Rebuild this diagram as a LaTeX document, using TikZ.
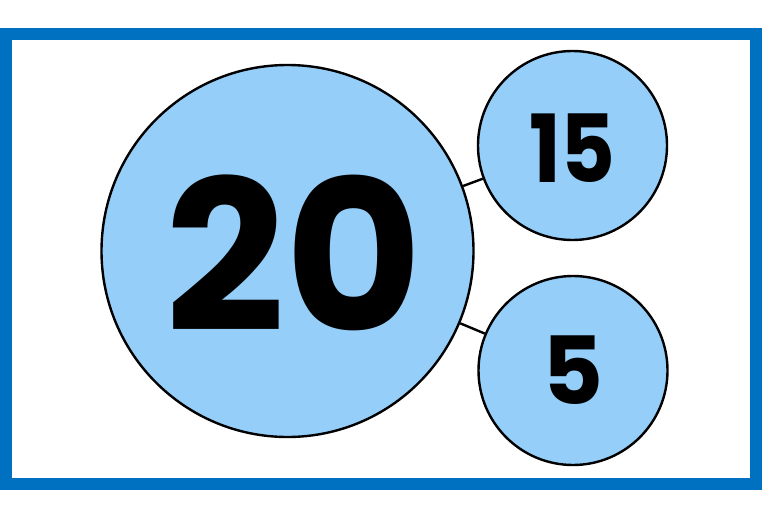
\documentclass[tikz,border=0pt]{standalone}
\usepackage{fontspec}
\setmainfont{Poppins}
\definecolor{frame}{HTML}{0070C0}
\definecolor{bubble}{HTML}{94CEF9}
\begin{document}
\begin{tikzpicture}[x=1pt,y=-1pt,
  bub/.style={circle,draw=black,line width=2.4pt,fill=bubble,inner sep=0pt},
  lnk/.style={draw=black,line width=2.4pt},
  num/.style={inner sep=0pt,text depth=0pt,anchor=center,font=\bfseries}]
\useasboundingbox (0,0) rectangle (763,506);
\draw[frame,line width=12pt] (6,34) rectangle (756,484);
\node[bub,minimum size=372pt] (big) at (287.5,251) {};
\node[bub,minimum size=189pt] (top) at (572.5,145.5) {};
\node[bub,minimum size=189pt] (bot) at (573,370.5) {};
\draw[lnk] (big) -- (top);
\draw[lnk] (big) -- (bot);
\node[num,font=\bfseries\fontsize{210}{210}\selectfont] (t20) at (294,253) {20};
\node[num,font=\bfseries\fontsize{94}{94}\selectfont,xscale=0.9] (t15) at (572.5,148) {15};
\node[num,font=\bfseries\fontsize{94}{94}\selectfont] (t5) at (573.5,370) {5};
\end{tikzpicture}
\end{document}
